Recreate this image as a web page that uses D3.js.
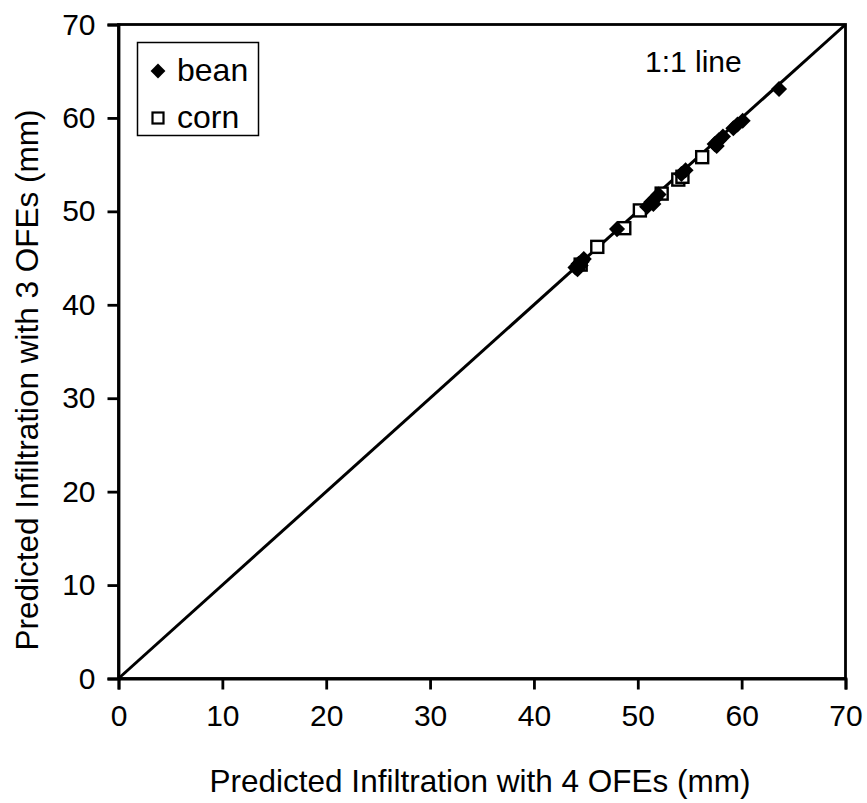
<!DOCTYPE html>
<html>
<head>
<meta charset="utf-8">
<script src="https://cdn.jsdelivr.net/npm/d3@7"></script>
<style>
  html, body { margin: 0; padding: 0; background: #fff; }
  svg { display: block; }
  text { font-family: "Liberation Sans", Arial, sans-serif; fill: #000; }
</style>
</head>
<body>
<svg id="chart" width="867" height="803"></svg>
<script>
const ticks = [0, 10, 20, 30, 40, 50, 60, 70];
const beanX = [44.0, 44.3, 44.6, 44.8, 44.2, 44.5, 48.0, 50.9, 51.3, 51.7, 52.0, 51.5, 54.2, 54.6, 57.4, 57.8, 58.2, 57.6, 59.2, 59.6, 60.1, 63.6];
const beanY = [44.0, 44.4, 44.6, 44.9, 43.8, 44.2, 48.1, 50.5, 51.0, 51.4, 51.8, 50.8, 54.0, 54.4, 57.2, 57.6, 58.0, 57.0, 58.9, 59.3, 59.7, 63.1];
const cornX = [44.5, 46.1, 48.7, 50.2, 52.3, 53.9, 54.3, 56.2];
const cornY = [44.3, 46.2, 48.2, 50.1, 51.9, 53.4, 53.7, 55.8];
const xTitle = "Predicted Infiltration with 4 OFEs (mm)";
const yTitle = "Predicted Infiltration with 3 OFEs (mm)";
const seriesNames = ["bean", "corn"];

const svg = d3.select("#chart");
const L = 118.5, R = 845.5, T = 24.5, B = 678.5;
const x = d3.scaleLinear().domain([0, 70]).range([L, R]);
const y = d3.scaleLinear().domain([0, 70]).range([B, T]);

// frame
svg.append("rect").attr("x", L).attr("y", T).attr("width", R - L).attr("height", B - T)
  .attr("fill", "none").attr("stroke", "#000").attr("stroke-width", 2.8);

// axes
const xAxis = svg.append("g").attr("transform", `translate(0,${B})`)
  .call(d3.axisBottom(x).tickValues(ticks).tickSize(11).tickPadding(15).tickFormat(d3.format("d")));
const yAxis = svg.append("g").attr("transform", `translate(${L},0)`)
  .call(d3.axisLeft(y).tickValues(ticks).tickSize(11).tickPadding(12).tickFormat(d3.format("d")));
[xAxis, yAxis].forEach(g => {
  g.select(".domain").attr("stroke", "#000").attr("stroke-width", 2.8);
  g.selectAll(".tick line").attr("stroke", "#000").attr("stroke-width", 2.8);
  g.selectAll(".tick text").attr("font-size", 30).attr("font-family", "Liberation Sans, Arial, sans-serif").attr("fill", "#000");
});

// 1:1 line
svg.append("line").attr("x1", x(0)).attr("y1", y(0)).attr("x2", x(70)).attr("y2", y(70))
  .attr("stroke", "#000").attr("stroke-width", 3);

// corn squares
svg.append("g").selectAll("rect").data(cornX.map((v, i) => [v, cornY[i]])).join("rect")
  .attr("x", d => x(d[0]) - 6).attr("y", d => y(d[1]) - 6).attr("width", 12).attr("height", 12)
  .attr("fill", "#fff").attr("stroke", "#000").attr("stroke-width", 2.4);

// bean diamonds
const diamond = d3.symbol().type(d3.symbolDiamond2).size(165);
svg.append("g").selectAll("path").data(beanX.map((v, i) => [v, beanY[i]])).join("path")
  .attr("d", diamond).attr("transform", d => `translate(${x(d[0])},${y(d[1])})`)
  .attr("fill", "#000");

// label
svg.append("text").attr("x", 645).attr("y", 72).attr("font-size", 30).text("1:1 line");

// legend
const lg = svg.append("g");
lg.append("rect").attr("x", 137.5).attr("y", 42.5).attr("width", 121).attr("height", 93)
  .attr("fill", "#fff").attr("stroke", "#000").attr("stroke-width", 1.5);
lg.append("path").attr("d", d3.symbol().type(d3.symbolDiamond2).size(140)).attr("transform", "translate(158,71)").attr("fill", "#000");
lg.append("rect").attr("x", 152.5).attr("y", 112.5).attr("width", 11).attr("height", 11)
  .attr("fill", "#fff").attr("stroke", "#000").attr("stroke-width", 2.2);
lg.append("text").attr("x", 177).attr("y", 81).attr("font-size", 32).text(seriesNames[0]);
lg.append("text").attr("x", 177).attr("y", 128).attr("font-size", 32).text(seriesNames[1]);

// titles
svg.append("text").attr("x", 480).attr("y", 792).attr("text-anchor", "middle")
  .attr("font-size", 31.5).text(xTitle);
svg.append("text").attr("transform", `translate(38,380) rotate(-90)`).attr("text-anchor", "middle")
  .attr("font-size", 31.5).text(yTitle);
</script>
</body>
</html>
